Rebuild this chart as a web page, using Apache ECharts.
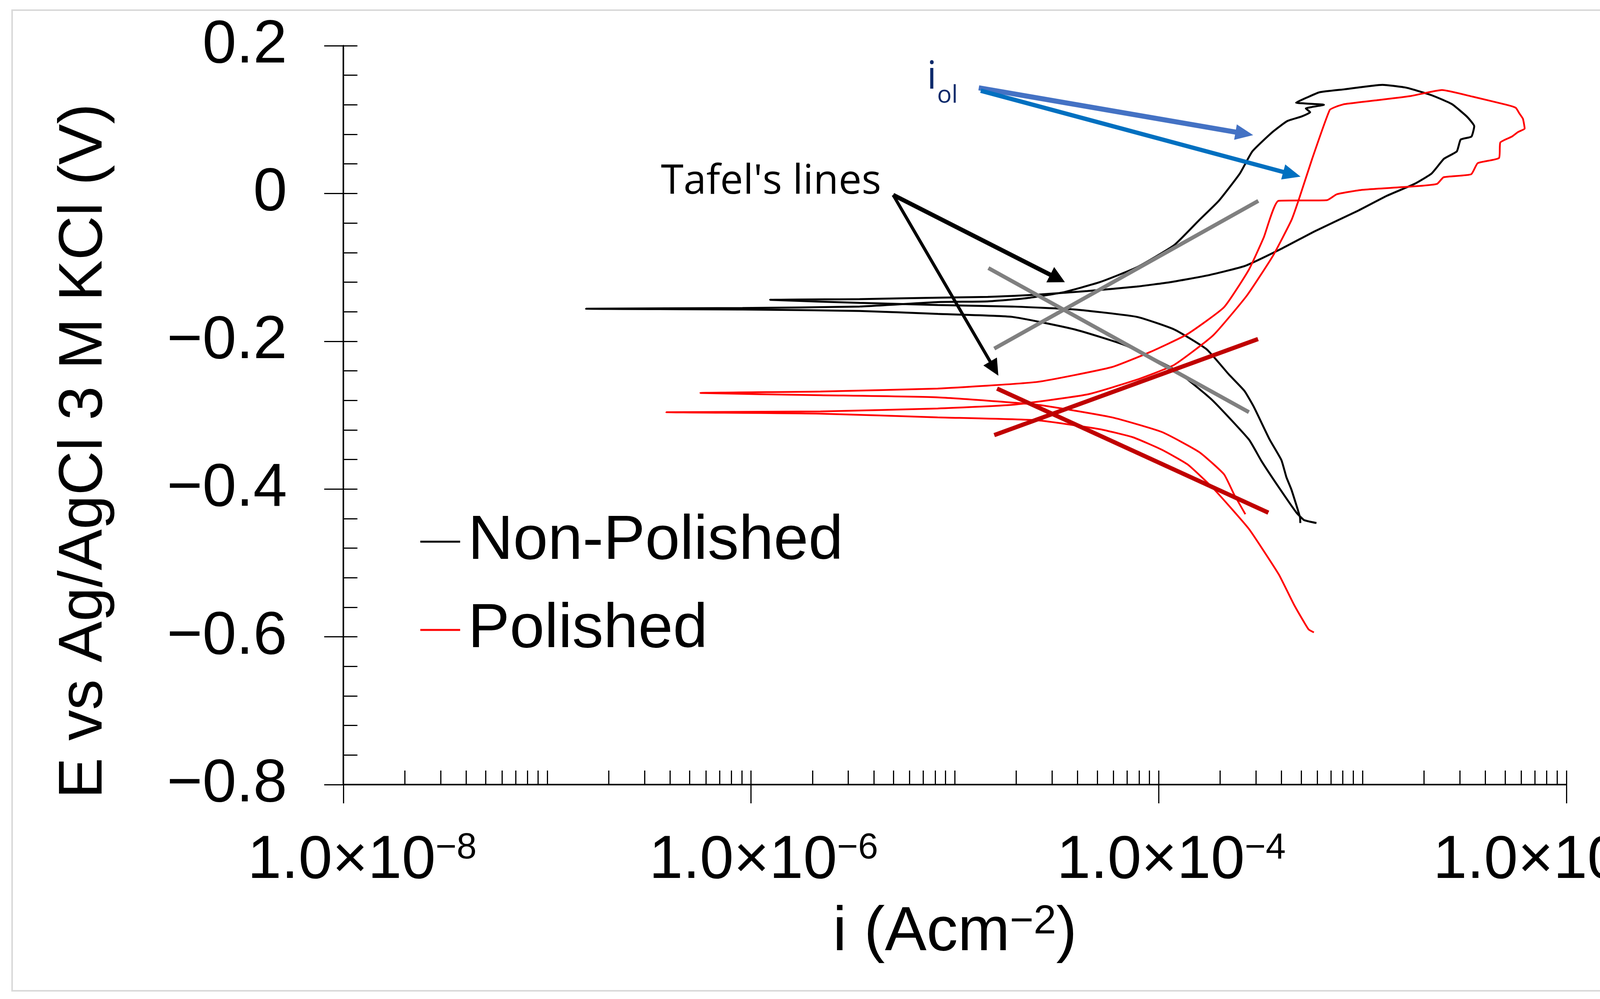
<!DOCTYPE html>
<html>
<head>
<meta charset="utf-8">
<script src="https://cdn.jsdelivr.net/npm/echarts@6/dist/echarts.min.js"></script>
<style>html,body{margin:0;padding:0;background:#fff}#c{width:4303px;height:2558px}</style>
</head>
<body>
<div id="c"></div>
<script>
// ---- data: [current density i (A cm^-2), potential E (V vs Ag/AgCl 3 M KCl)] ----
const nonPolished = [
  [5.94e-4,-0.446],[5.49e-4,-0.444],[5.16e-4,-0.442],[4.74e-4,-0.432],[3.89e-4,-0.398],
  [3.19e-4,-0.362],[2.77e-4,-0.333],[1.82e-4,-0.279],[1.19e-4,-0.238],[6.78e-5,-0.205],
  [3.87e-5,-0.184],[1.91e-5,-0.167],[8.24e-6,-0.163],[3.41e-6,-0.159],[9.08e-7,-0.157],
  [1.55e-7,-0.156],[9.08e-7,-0.155],[3.41e-6,-0.153],[8.24e-6,-0.147],[1.45e-5,-0.146],
  [2.20e-5,-0.142],[3.37e-5,-0.134],[5.14e-5,-0.120],[7.81e-5,-0.100],[1.19e-4,-0.070],
  [1.58e-4,-0.036],[1.97e-4,-0.010],[2.50e-4,0.027],[2.88e-4,0.057],[3.61e-4,0.083],
  [4.27e-4,0.098],[5.00e-4,0.104],[5.53e-4,0.110],[5.27e-4,0.115],[6.46e-4,0.120],
  [4.72e-4,0.123],[5.35e-4,0.130],[6.15e-4,0.137],[8.17e-4,0.141],[1.25e-3,0.147],
  [1.65e-3,0.143],[2.18e-3,0.133],[2.74e-3,0.121],[3.25e-3,0.104],[3.53e-3,0.091],
  [3.42e-3,0.077],[3.03e-3,0.073],[2.90e-3,0.057],[2.51e-3,0.047],[2.18e-3,0.027],
  [1.80e-3,0.013],[1.32e-3,-0.003],[9.40e-4,-0.024],[5.84e-4,-0.051],[4.05e-4,-0.074],
  [2.65e-4,-0.098],[1.73e-4,-0.111],[1.14e-4,-0.120],[7.81e-5,-0.126],[4.46e-5,-0.132],
  [2.54e-5,-0.137],[1.45e-5,-0.140],[8.24e-6,-0.141],[3.41e-6,-0.143],[1.24e-6,-0.144],
  [3.41e-6,-0.148],[8.24e-6,-0.151],[1.91e-5,-0.153],[3.87e-5,-0.157],[7.81e-5,-0.167],
  [1.19e-4,-0.184],[1.72e-4,-0.211],[2.21e-4,-0.245],[2.63e-4,-0.267],[2.93e-4,-0.289],
  [3.50e-4,-0.333],[4.00e-4,-0.361],[4.23e-4,-0.384],[4.48e-4,-0.401],[4.93e-4,-0.438],
  [4.95e-4,-0.446]
];
const polished = [
  [5.77e-4,-0.594],[5.44e-4,-0.590],[5.16e-4,-0.580],[4.60e-4,-0.556],[3.89e-4,-0.516],
  [3.19e-4,-0.479],[2.77e-4,-0.454],[2.25e-4,-0.425],[1.82e-4,-0.397],[1.39e-4,-0.367],
  [1.04e-4,-0.347],[7.48e-5,-0.330],[5.14e-5,-0.319],[2.54e-5,-0.307],[8.24e-6,-0.303],
  [2.19e-6,-0.298],[3.84e-7,-0.296],[2.19e-6,-0.295],[8.24e-6,-0.291],[1.91e-5,-0.286],
  [4.46e-5,-0.272],[7.81e-5,-0.252],[1.19e-4,-0.232],[1.85e-4,-0.192],[2.71e-4,-0.138],
  [3.64e-4,-0.084],[4.48e-4,-0.036],[4.87e-4,-0.008],[5.66e-4,0.047],[6.90e-4,0.113],
  [7.50e-4,0.118],[8.17e-4,0.121],[1.16e-3,0.126],[1.73e-3,0.132],[2.45e-3,0.140],
  [3.47e-3,0.131],[5.09e-3,0.120],[5.64e-3,0.116],[5.89e-3,0.108],[6.12e-3,0.101],
  [6.24e-3,0.088],[5.78e-3,0.083],[5.40e-3,0.077],[4.74e-3,0.069],[4.67e-3,0.048],
  [3.67e-3,0.041],[3.41e-3,0.026],[2.50e-3,0.022],[2.32e-3,0.013],[1.86e-3,0.010],
  [1.00e-3,0.005],[7.48e-4,-0.001],[6.70e-4,-0.009],[3.87e-4,-0.010],[3.27e-4,-0.060],
  [2.77e-4,-0.103],[2.09e-4,-0.154],[1.37e-4,-0.191],[9.00e-5,-0.215],[5.89e-5,-0.235],
  [2.54e-5,-0.255],[8.24e-6,-0.264],[2.19e-6,-0.268],[5.64e-7,-0.270],[2.19e-6,-0.273],
  [8.24e-6,-0.276],[2.54e-5,-0.286],[5.89e-5,-0.303],[1.04e-4,-0.323],[1.58e-4,-0.350],
  [2.09e-4,-0.380],[2.34e-4,-0.407],[2.66e-4,-0.434]
];
// Tafel fit lines (two end points each)
const tafelNP_cathodic = [[1.46e-5,-0.101],[2.77e-4,-0.296]];
const tafelNP_anodic   = [[1.56e-5,-0.210],[3.08e-4,-0.010]];
const tafelP_cathodic  = [[1.61e-5,-0.264],[3.45e-4,-0.432]];
const tafelP_anodic    = [[1.56e-5,-0.327],[3.07e-4,-0.197]];
// annotation arrows (start, head)
const tafelArrows = [
  [[4.98e-6,-0.002],[3.19e-5,-0.115]],
  [[4.98e-6,-0.002],[1.56e-5,-0.237]]
];
const iolArrows = [
  [[1.31e-5,0.143],[2.63e-4,0.081]],
  [[1.34e-5,0.139],[4.50e-4,0.026]]
];
// axis tick values
const xMajorTicks = [1e-8, 1e-6, 1e-4, 1e-2];
const yMin = -0.8, yMax = 0.2, yStep = 0.2;

const FONT = 'Liberation Sans';
const ANN = 'Open Sans';

const chart = echarts.init(document.getElementById('c'), null, {renderer: 'canvas'});

const tickStyle = {color: '#000', width: 3};
const mainTok = {fontSize: 156, lineHeight: 156, fontFamily: FONT, color: '#000'};
const supTok = {fontSize: 92, lineHeight: 92, fontFamily: FONT, color: '#000', verticalAlign: 'top'};

const option = {
  animation: false,
  backgroundColor: '#fff',
  textStyle: {fontFamily: FONT},
  grid: {left: 879, right: 293, top: 117, bottom: 549, containLabel: false, outerBoundsMode: 'none'},
  legend: {
    orient: 'vertical', left: 1076, top: 1307, padding: 0,
    itemWidth: 102, itemHeight: 5, itemGap: 66, icon: 'rect',
    selectedMode: false,
    data: ['Non-Polished', 'Polished'],
    textStyle: {fontSize: 160, fontFamily: FONT, color: '#000', padding: [0, 0, 0, 15]}
  },
  xAxis: [
    {
      type: 'log', logBase: 10, min: 1e-8, max: 1e-2, position: 'bottom',
      name: '{a|i (Acm}{s|\u22122}{a|)}', nameLocation: 'middle', nameGap: 300, nameMoveOverlap: false,
      nameTextStyle: {rich: {
        a: {fontSize: 160, lineHeight: 160, fontFamily: FONT, color: '#000'},
        s: {fontSize: 104, lineHeight: 104, fontFamily: FONT, color: '#000', verticalAlign: 'top'}
      }},
      axisLine: {show: true, onZero: false, lineStyle: {color: '#000', width: 4}},
      axisTick: {show: true, inside: false, length: 48, customValues: xMajorTicks, lineStyle: tickStyle},
      axisLabel: {
        show: true, customValues: xMajorTicks, margin: 118, showMinLabel: true, showMaxLabel: true,
        formatter: function (v) {
          const e = Math.round(Math.log10(v));
          const main = e === -8 ? 'f' : (e === -2 ? 'l' : 'm');
          const sup = e === -2 ? 'sl' : 's';
          return '{' + main + '|1.0\u00d710}{' + sup + '|\u2212' + (-e) + '}';
        },
        rich: {
          f: Object.assign({}, mainTok, {padding: [0, 0, 0, 96]}),
          m: Object.assign({}, mainTok, {padding: [0, 0, 0, 64]}),
          l: Object.assign({}, mainTok),
          s: Object.assign({}, supTok),
          sl: Object.assign({}, supTok, {padding: [0, 96, 0, 0]})
        }
      },
      splitLine: {show: false}, minorTick: {show: false}, minorSplitLine: {show: false}
    },
    {
      type: 'log', logBase: 10, min: 1e-8, max: 1e-2, splitNumber: 6, position: 'bottom',
      axisLine: {show: false, onZero: false}, axisLabel: {show: false},
      axisTick: {show: true, inside: true, length: 36, lineStyle: tickStyle},
      minorTick: {show: true, splitNumber: 9, length: 36, lineStyle: tickStyle},
      splitLine: {show: false}, minorSplitLine: {show: false}
    }
  ],
  yAxis: [
    {
      type: 'value', min: yMin, max: yMax, interval: yStep, position: 'left',
      name: 'E vs Ag/AgCl 3 M KCl (V)', nameLocation: 'middle', nameGap: 584, nameRotate: 90,
      nameMoveOverlap: false,
      nameTextStyle: {fontSize: 157, fontFamily: FONT, color: '#000', padding: [0, 184, 0, 0]},
      axisLine: {show: true, onZero: false, lineStyle: {color: '#000', width: 4}},
      axisTick: {show: true, inside: false, length: 49, lineStyle: tickStyle},
      axisLabel: {
        margin: 144, fontSize: 156, fontFamily: FONT, color: '#000',
        formatter: function (v) {
          const r = Math.round(v * 10) / 10;
          if (r === 0) return '0';
          return (r < 0 ? '\u2212' : '') + Math.abs(r).toFixed(1);
        }
      },
      splitLine: {show: false}
    },
    {
      type: 'value', min: yMin, max: yMax, interval: yStep, position: 'left',
      axisLine: {show: false, onZero: false}, axisLabel: {show: false},
      axisTick: {show: true, inside: true, length: 36, lineStyle: tickStyle},
      minorTick: {show: true, splitNumber: 5, length: 36, lineStyle: tickStyle},
      splitLine: {show: false}, minorSplitLine: {show: false}
    }
  ],
  series: [
    {name: 'Non-Polished', type: 'line', data: nonPolished, showSymbol: false, symbol: 'none',
     smooth: 0.15, lineStyle: {color: '#000', width: 5}, itemStyle: {color: '#000'}, z: 2, silent: true},
    {name: 'Polished', type: 'line', data: polished, showSymbol: false, symbol: 'none',
     smooth: 0.15, lineStyle: {color: '#ff0000', width: 4.5}, itemStyle: {color: '#ff0000'}, z: 2, silent: true},
    {name: 'Tafel NP cathodic', type: 'line', data: tafelNP_cathodic, showSymbol: false, symbol: 'none',
     lineStyle: {color: '#808080', width: 10}, z: 3, silent: true},
    {name: 'Tafel NP anodic', type: 'line', data: tafelNP_anodic, showSymbol: false, symbol: 'none',
     lineStyle: {color: '#808080', width: 10}, z: 3, silent: true},
    {name: 'Tafel P cathodic', type: 'line', data: tafelP_cathodic, showSymbol: false, symbol: 'none',
     lineStyle: {color: '#c00000', width: 11}, z: 3, silent: true},
    {name: 'Tafel P anodic', type: 'line', data: tafelP_anodic, showSymbol: false, symbol: 'none',
     lineStyle: {color: '#c00000', width: 11}, z: 3, silent: true,
     markLine: {
       silent: true, animation: false, symbol: ['none', 'triangle'], symbolSize: [44, 42],
       label: {show: false}, emphasis: {disabled: true},
       data: [
         [{coord: tafelArrows[0][0], lineStyle: {color: '#000', width: 11, type: 'solid'}, itemStyle: {color: '#000'}},
          {coord: tafelArrows[0][1]}],
         [{coord: tafelArrows[1][0], lineStyle: {color: '#000', width: 8, type: 'solid'}, itemStyle: {color: '#000'}},
          {coord: tafelArrows[1][1], symbolSize: [40, 42]}],
         [{coord: iolArrows[0][0], lineStyle: {color: '#4472C4', width: 13, type: 'solid'}, itemStyle: {color: '#4472C4'}},
          {coord: iolArrows[0][1], symbolSize: [40, 46]}],
         [{coord: iolArrows[1][0], lineStyle: {color: '#0070C0', width: 11, type: 'solid'}, itemStyle: {color: '#0070C0'}},
          {coord: iolArrows[1][1], symbolSize: [40, 46]}]
       ]
     }}
  ],
  graphic: [
    {type: 'rect', silent: true, z: -10,
     shape: {x: 31, y: 26, width: 4240, height: 2511},
     style: {fill: 'none', stroke: '#d9d9d9', lineWidth: 4}},
    {type: 'text', x: 1692, y: 466, silent: true,
     style: {text: "Tafel's lines", font: '105px "' + ANN + '"', fill: '#000', align: 'left', verticalAlign: 'middle'}},
    {type: 'text', x: 2373, y: 199, silent: true,
     style: {text: 'i', font: '98px "' + ANN + '"', fill: '#0d2a6b', align: 'left', verticalAlign: 'middle'}},
    {type: 'text', x: 2399, y: 245, silent: true,
     style: {text: 'ol', font: '62px "' + ANN + '"', fill: '#0d2a6b', align: 'left', verticalAlign: 'middle'}}
  ]
};
chart.setOption(option);
</script>
</body>
</html>
